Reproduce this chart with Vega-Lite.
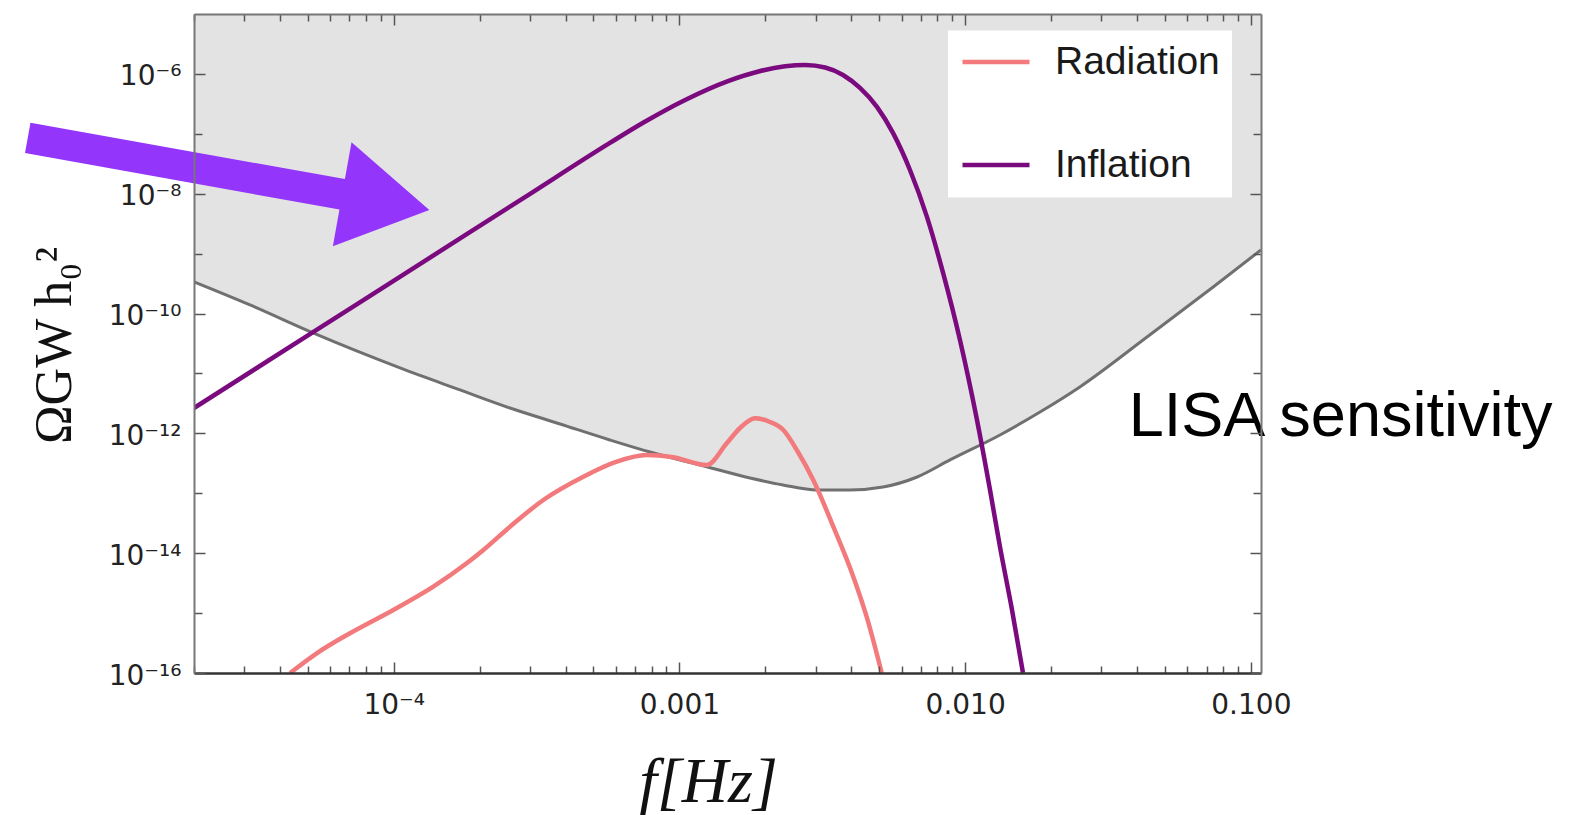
{
  "$schema": "https://vega.github.io/schema/vega-lite/v6.json",
  "width": 1067,
  "height": 659,
  "autosize": {"type": "none"},
  "padding": {"left": 194, "top": 14, "right": 330, "bottom": 142},
  "background": "white",
  "config": {"view": {"stroke": null}, "font": "Liberation Sans"},
  "datasets": {
    "lisa": [
      {"f": 2.0e-5, "v": 3.37e-10},
      {"f": 3.14e-5, "v": 1.39e-10},
      {"f": 5.22e-5, "v": 4.74e-11},
      {"f": 1.052e-4, "v": 1.236e-11},
      {"f": 1.706e-4, "v": 5.31e-12},
      {"f": 2.553e-4, "v": 2.65e-12},
      {"f": 3.82e-4, "v": 1.435e-12},
      {"f": 5.71e-4, "v": 7.76e-13},
      {"f": 7.89e-4, "v": 4.88e-13},
      {"f": 1.18e-3, "v": 2.96e-13},
      {"f": 1.766e-3, "v": 1.80e-13},
      {"f": 2.304e-3, "v": 1.377e-13},
      {"f": 3.03e-3, "v": 1.135e-13},
      {"f": 3.95e-3, "v": 1.135e-13},
      {"f": 5.16e-3, "v": 1.273e-13},
      {"f": 6.79e-3, "v": 1.87e-13},
      {"f": 8.85e-3, "v": 3.60e-13},
      {"f": 1.324e-2, "v": 9.4e-13},
      {"f": 1.828e-2, "v": 2.27e-12},
      {"f": 2.52e-2, "v": 5.96e-12},
      {"f": 4.33e-2, "v": 4.06e-11},
      {"f": 7.38e-2, "v": 2.78e-10},
      {"f": 0.1085, "v": 1.153e-9}
    ],
    "curves": [
      {"series": "Radiation", "f": 4.34e-5, "v": 1e-16},
      {"series": "Radiation", "f": 5.377e-5, "v": 2.13e-16},
      {"series": "Radiation", "f": 7.03e-5, "v": 4.61e-16},
      {"series": "Radiation", "f": 9.97e-5, "v": 1.127e-15},
      {"series": "Radiation", "f": 1.376e-4, "v": 2.76e-15},
      {"series": "Radiation", "f": 1.80e-4, "v": 6.77e-15},
      {"series": "Radiation", "f": 2.06e-4, "v": 1.13e-14},
      {"series": "Radiation", "f": 2.553e-4, "v": 2.77e-14},
      {"series": "Radiation", "f": 3.34e-4, "v": 7.73e-14},
      {"series": "Radiation", "f": 4.61e-4, "v": 1.89e-13},
      {"series": "Radiation", "f": 6.03e-4, "v": 3.37e-13},
      {"series": "Radiation", "f": 7.68e-4, "v": 4.35e-13},
      {"series": "Radiation", "f": 9.50e-4, "v": 3.99e-13},
      {"series": "Radiation", "f": 1.246e-3, "v": 2.96e-13},
      {"series": "Radiation", "f": 1.464e-3, "v": 6.84e-13},
      {"series": "Radiation", "f": 1.63e-3, "v": 1.23e-12},
      {"series": "Radiation", "f": 1.839e-3, "v": 1.787e-12},
      {"series": "Radiation", "f": 2.075e-3, "v": 1.55e-12},
      {"series": "Radiation", "f": 2.31e-3, "v": 1.14e-12},
      {"series": "Radiation", "f": 2.60e-3, "v": 4.88e-13},
      {"series": "Radiation", "f": 2.94e-3, "v": 1.667e-13},
      {"series": "Radiation", "f": 3.456e-3, "v": 2.77e-14},
      {"series": "Radiation", "f": 4.06e-3, "v": 4.06e-15},
      {"series": "Radiation", "f": 4.52e-3, "v": 8.7e-16},
      {"series": "Radiation", "f": 5.105e-3, "v": 1e-16},
      {"series": "Inflation", "f": 2.0e-5, "v": 2.65e-12},
      {"series": "Inflation", "f": 5.22e-5, "v": 4.89e-11},
      {"series": "Inflation", "f": 1.266e-4, "v": 7.23e-10},
      {"series": "Inflation", "f": 2.835e-4, "v": 8.36e-9},
      {"series": "Inflation", "f": 5.71e-4, "v": 7.05e-8},
      {"series": "Inflation", "f": 7.46e-4, "v": 1.53e-7},
      {"series": "Inflation", "f": 1.047e-3, "v": 3.68e-7},
      {"series": "Inflation", "f": 1.479e-3, "v": 7.6e-7},
      {"series": "Inflation", "f": 1.905e-3, "v": 1.11e-6},
      {"series": "Inflation", "f": 2.344e-3, "v": 1.34e-6},
      {"series": "Inflation", "f": 2.754e-3, "v": 1.41e-6},
      {"series": "Inflation", "f": 3.236e-3, "v": 1.28e-6},
      {"series": "Inflation", "f": 3.737e-3, "v": 9.6e-7},
      {"series": "Inflation", "f": 4.285e-3, "v": 5.83e-7},
      {"series": "Inflation", "f": 4.913e-3, "v": 2.81e-7},
      {"series": "Inflation", "f": 5.59e-3, "v": 1.035e-7},
      {"series": "Inflation", "f": 6.41e-3, "v": 2.49e-8},
      {"series": "Inflation", "f": 7.35e-3, "v": 4.10e-9},
      {"series": "Inflation", "f": 8.37e-3, "v": 4.77e-10},
      {"series": "Inflation", "f": 9.59e-3, "v": 3.62e-11},
      {"series": "Inflation", "f": 1.100e-2, "v": 1.675e-12},
      {"series": "Inflation", "f": 1.222e-2, "v": 1.135e-13},
      {"series": "Inflation", "f": 1.324e-2, "v": 1.27e-14},
      {"series": "Inflation", "f": 1.459e-2, "v": 1.127e-15},
      {"series": "Inflation", "f": 1.594e-2, "v": 1e-16}
    ],
    "notes": [{"label": "LISA sensitivity"}]
  },
  "resolve": {"axis": {"x": "independent", "y": "independent"}},
  "layer": [
    {
      "data": {"name": "lisa"},
      "mark": {"type": "area", "color": "#e3e3e3", "clip": true, "interpolate": "monotone"},
      "encoding": {
        "x": {
          "field": "f", "type": "quantitative",
          "scale": {"type": "log", "domain": [2e-5, 0.1085], "nice": false},
          "axis": {
            "orient": "bottom",
            "values": [2e-5,3e-5,4e-5,5e-5,6e-5,7e-5,8e-5,9e-5,1e-4,2e-4,3e-4,4e-4,5e-4,6e-4,7e-4,8e-4,9e-4,1e-3,2e-3,3e-3,4e-3,5e-3,6e-3,7e-3,8e-3,9e-3,1e-2,2e-2,3e-2,4e-2,5e-2,6e-2,7e-2,8e-2,9e-2,1e-1],
            "labelExpr": "abs(log(datum.value)/LN10 - round(log(datum.value)/LN10)) >= 0.01 ? '' : (datum.value < 0.0005 ? '10⁻⁴' : format(datum.value, '.3f'))",
            "tickSize": {"condition": {"test": "abs(log(datum.value)/LN10 - round(log(datum.value)/LN10)) < 0.01", "value": -11}, "value": -7},
            "tickColor": "#555", "tickWidth": 1.5,
            "domainColor": "#333", "domainWidth": 2.5,
            "labelFont": "DejaVu Sans", "labelFontSize": 28, "labelColor": "#222",
            "labelPadding": 29, "labelOverlap": false, "labelFlush": false, "labelBound": false,
            "grid": false, "zindex": 1,
            "title": "f[Hz]", "titleFont": "Liberation Serif", "titleFontStyle": "italic", "titleFontWeight": "normal",
            "titleFontSize": 64, "titleColor": "#111", "titleX": 514, "titleY": 128, "titleAlign": "center", "titleBaseline": "alphabetic"
          }
        },
        "y": {
          "field": "v", "type": "quantitative",
          "scale": {"type": "log", "domain": [1e-16, 1e-5], "nice": false},
          "axis": {
            "orient": "left",
            "values": [1e-16,1e-15,1e-14,1e-13,1e-12,1e-11,1e-10,1e-9,1e-8,1e-7,1e-6],
            "labelExpr": "(round(log(datum.value)/LN10) == -6) ? '10⁻⁶' : (round(log(datum.value)/LN10) == -8) ? '10⁻⁸' : (round(log(datum.value)/LN10) == -10) ? '10⁻¹⁰' : (round(log(datum.value)/LN10) == -12) ? '10⁻¹²' : (round(log(datum.value)/LN10) == -14) ? '10⁻¹⁴' : (round(log(datum.value)/LN10) == -16) ? '10⁻¹⁶' : ''",
            "tickSize": {"condition": {"test": "round(log(datum.value)/LN10) % 2 == 0", "value": -11}, "value": -8},
            "tickColor": "#555", "tickWidth": 1.5,
            "domainColor": "#777", "domainWidth": 2,
            "labelFont": "DejaVu Sans", "labelFontSize": 28, "labelColor": "#222",
            "labelPadding": 24, "labelOffset": 3, "labelBaseline": "middle", "labelOverlap": false, "labelFlush": false, "labelBound": false,
            "grid": false, "zindex": 1,
            "title": "ΩGW h₀²", "titleFont": "Liberation Serif", "titleFontWeight": "normal", "titleFontSize": 52, "titleColor": "#111",
            "titleAngle": 270, "titleX": -124, "titleY": 331, "titleAlign": "center", "titleBaseline": "alphabetic"
          }
        },
        "y2": {"datum": 1e-5}
      }
    },
    {
      "data": {"name": "lisa"},
      "mark": {"type": "line", "color": "#707070", "strokeWidth": 3, "clip": true, "interpolate": "monotone"},
      "encoding": {
        "x": {
          "field": "f", "type": "quantitative",
          "scale": {"type": "log", "domain": [2e-5, 0.1085], "nice": false},
          "axis": {
            "orient": "top",
            "values": [2e-5,3e-5,4e-5,5e-5,6e-5,7e-5,8e-5,9e-5,1e-4,2e-4,3e-4,4e-4,5e-4,6e-4,7e-4,8e-4,9e-4,1e-3,2e-3,3e-3,4e-3,5e-3,6e-3,7e-3,8e-3,9e-3,1e-2,2e-2,3e-2,4e-2,5e-2,6e-2,7e-2,8e-2,9e-2,1e-1],
            "labels": false, "title": null,
            "tickSize": {"condition": {"test": "abs(log(datum.value)/LN10 - round(log(datum.value)/LN10)) < 0.01", "value": -11}, "value": -7},
            "tickColor": "#555", "tickWidth": 1.5,
            "domainColor": "#777", "domainWidth": 2, "grid": false, "zindex": 1
          }
        },
        "y": {
          "field": "v", "type": "quantitative",
          "scale": {"type": "log", "domain": [1e-16, 1e-5], "nice": false},
          "axis": {
            "orient": "right",
            "values": [1e-16,1e-15,1e-14,1e-13,1e-12,1e-11,1e-10,1e-9,1e-8,1e-7,1e-6],
            "labels": false, "title": null,
            "tickSize": {"condition": {"test": "round(log(datum.value)/LN10) % 2 == 0", "value": -11}, "value": -8},
            "tickColor": "#555", "tickWidth": 1.5,
            "domainColor": "#777", "domainWidth": 2, "grid": false, "zindex": 1
          }
        }
      }
    },
    {
      "data": {"name": "curves"},
      "mark": {"type": "line", "strokeWidth": 4.5, "clip": true, "interpolate": "monotone"},
      "encoding": {
        "x": {"field": "f", "type": "quantitative", "scale": {"type": "log", "domain": [2e-5, 0.1085], "nice": false}, "axis": null},
        "y": {"field": "v", "type": "quantitative", "scale": {"type": "log", "domain": [1e-16, 1e-5], "nice": false}, "axis": null},
        "color": {
          "field": "series", "type": "nominal",
          "scale": {"domain": ["Radiation", "Inflation"], "range": ["#f37a7c", "#7a0a7e"]},
          "legend": {
            "orient": "none", "legendX": 754, "legendY": 16.5, "title": null,
            "symbolType": "stroke", "symbolStrokeWidth": 4.5, "symbolSize": 4489,
            "clipHeight": 39,
            "labelFont": "Liberation Sans", "labelFontSize": 39, "labelColor": "#1a1a1a", "labelOffset": 23, "labelLimit": 400,
            "rowPadding": 63, "padding": 12, "fillColor": "white", "strokeColor": null, "cornerRadius": 0
          }
        }
      }
    },
    {
      "data": {"name": "notes"},
      "mark": {"type": "point", "shape": "M -1 -0.0757 L 0.566 -0.0757 L 0.566 -0.259 L 1 0 L 0.566 0.259 L 0.566 0.0757 L -1 0.0757 Z", "size": 166464, "angle": 10.17, "filled": true, "fill": "#9335fb", "strokeWidth": 0, "opacity": 1, "clip": false},
      "encoding": {
        "x": {"datum": 2.642e-5, "type": "quantitative", "scale": {"type": "log", "domain": [2e-5, 0.1085], "nice": false}, "axis": null},
        "y": {"datum": 2.14e-8, "type": "quantitative", "scale": {"type": "log", "domain": [1e-16, 1e-5], "nice": false}, "axis": null}
      }
    },
    {
      "data": {"name": "notes"},
      "mark": {"type": "text", "font": "Liberation Sans", "fontSize": 63, "color": "#000", "align": "left", "baseline": "alphabetic", "clip": false},
      "encoding": {
        "text": {"field": "label"},
        "x": {"datum": 0.03737, "type": "quantitative", "scale": {"type": "log", "domain": [2e-5, 0.1085], "nice": false}, "axis": null},
        "y": {"datum": 9.1e-13, "type": "quantitative", "scale": {"type": "log", "domain": [1e-16, 1e-5], "nice": false}, "axis": null}
      }
    }
  ]
}
